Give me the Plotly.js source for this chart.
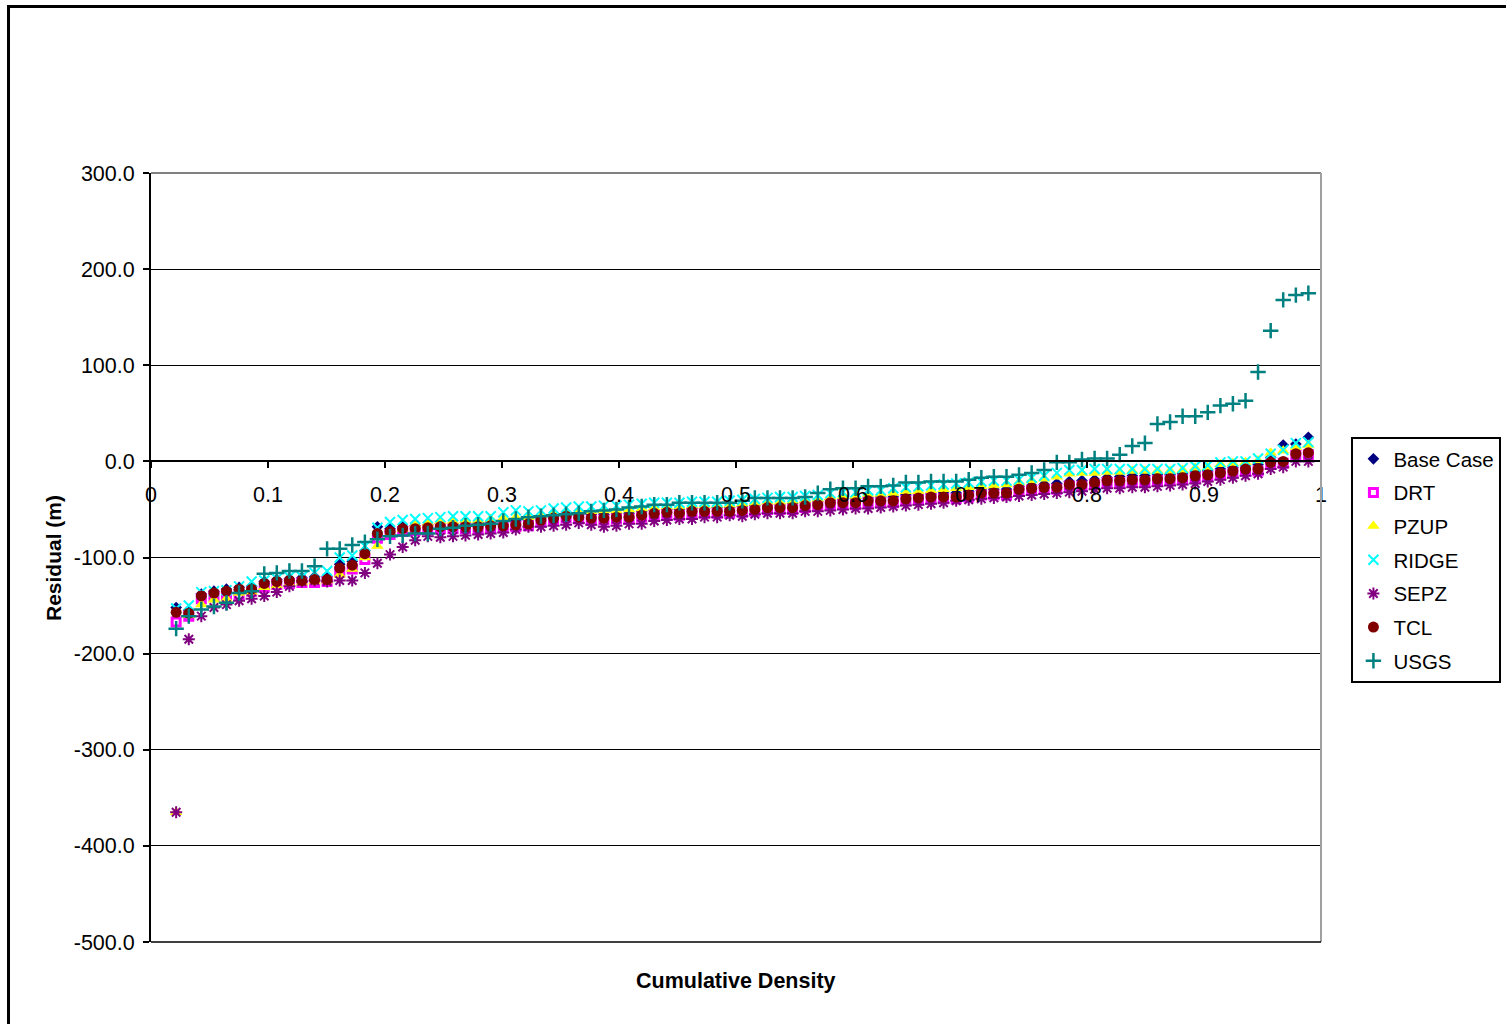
<!DOCTYPE html>
<html>
<head>
<meta charset="utf-8">
<script src="https://cdn.plot.ly/plotly-3.0.1.min.js"></script>
<style>
  html, body { margin: 0; padding: 0; background: #ffffff; }
  #wrap { position: relative; width: 1506px; height: 1024px; overflow: hidden; }
  #chart { position: absolute; left: 0; top: 0; width: 1506px; height: 1024px; }
  #frame { position: absolute; left: 7px; top: 5px; width: 1600px; height: 1100px;
           border-left: 3px solid #000; border-top: 3px solid #000; pointer-events: none; }
</style>
</head>
<body>
<div id="wrap">
  <div id="chart"></div>
  <div id="frame"></div>
</div>
<script>
// Cumulative density (x) for every point
const cumDensity = [0.0215,0.0323,0.0430,0.0538,0.0645,0.0753,0.0860,0.0968,0.1075,0.1183,
  0.1290,0.1398,0.1505,0.1613,0.1720,0.1828,0.1935,0.2043,0.2151,0.2258,
  0.2366,0.2473,0.2581,0.2688,0.2796,0.2903,0.3011,0.3118,0.3226,0.3333,
  0.3441,0.3548,0.3656,0.3763,0.3871,0.3978,0.4086,0.4194,0.4301,0.4409,
  0.4516,0.4624,0.4731,0.4839,0.4946,0.5054,0.5161,0.5269,0.5376,0.5484,
  0.5591,0.5699,0.5806,0.5914,0.6022,0.6129,0.6237,0.6344,0.6452,0.6559,
  0.6667,0.6774,0.6882,0.6989,0.7097,0.7204,0.7312,0.7419,0.7527,0.7634,
  0.7742,0.7849,0.7957,0.8065,0.8172,0.8280,0.8387,0.8495,0.8602,0.8710,
  0.8817,0.8925,0.9032,0.9140,0.9247,0.9355,0.9462,0.9570,0.9677,0.9785,0.9892];

// Residuals (m) per model
const baseCase = [-152,-155,-138,-135,-133,-131,-130,-125,-123,-122,
  -121,-120,-120,-107,-104,-93,-68,-70,-68,-67,
  -66,-65,-65,-64,-64,-63,-62,-62,-61,-58,
  -56,-55,-55,-55,-55,-54,-54,-52,-51,-50,
  -50,-49,-49,-48,-48,-47,-46,-45,-45,-44,
  -43,-42,-40,-40,-39,-38,-37,-37,-35,-35,
  -34,-33,-33,-31,-30,-29,-29,-26,-25,-24,
  -23,-21,-20,-19,-17,-16,-15,-15,-14,-14,
  -13,-11,-10,-8,-6,-4,-3,4,17,18,25];

const drt = [-167,-161,-143,-140,-139,-139,-135,-131,-128,-127,
  -126,-126,-125,-115,-112,-102,-80,-76,-73,-72,
  -71,-70,-70,-70,-70,-69,-69,-68,-67,-63,
  -61,-59,-60,-61,-61,-60,-60,-58,-56,-55,
  -56,-54,-54,-54,-54,-53,-52,-50,-50,-50,
  -48,-47,-45,-45,-45,-43,-43,-43,-41,-40,
  -39,-39,-39,-37,-35,-35,-35,-31,-30,-29,
  -29,-26,-26,-24,-22,-22,-21,-21,-20,-20,
  -19,-17,-16,-14,-12,-10,-10,-3,-2,6,7];

const pzup = [-365,-160,-149,-144,-143,-137,-136,-131,-129,-127,
  -126,-125,-124,-118,-112,-100,-88,-75,-70,-66,
  -64,-62,-62,-61,-61,-60,-59,-58,-58,-56,
  -54,-53,-52,-52,-51,-51,-50,-49,-48,-47,
  -47,-46,-46,-45,-45,-44,-43,-42,-42,-41,
  -40,-39,-37,-36,-36,-34,-34,-33,-31,-31,
  -30,-29,-28,-27,-26,-25,-24,-22,-20,-18,
  -16,-13,-12,-12,-11,-11,-10,-10,-10,-10,
  -9,-7,-6,-3,-2,-1,1,9,11,15,17];

const ridge = [-153,-150,-136,-135,-134,-130,-125,-124,-122,-120,
  -120,-116,-114,-100,-98,-88,-69,-63,-61,-60,
  -59,-58,-57,-57,-57,-57,-53,-51,-52,-51,
  -49,-48,-47,-47,-46,-46,-45,-44,-43,-43,
  -43,-42,-42,-42,-41,-40,-39,-38,-37,-37,
  -36,-35,-33,-32,-32,-30,-30,-28,-27,-26,
  -25,-24,-23,-22,-21,-20,-20,-19,-17,-15,
  -12,-9,-9,-8,-8,-8,-8,-8,-8,-8,
  -7,-5,-4,-1,0,0,3,8,12,19,20];

const sepz = [-365,-185,-161,-152,-149,-145,-143,-140,-136,-130,
  -125,-124,-125,-124,-124,-116,-106,-97,-89,-82,
  -78,-79,-78,-77,-76,-75,-74,-71,-68,-68,
  -67,-66,-64,-66,-68,-67,-65,-65,-62,-61,
  -60,-60,-58,-58,-56,-57,-55,-54,-54,-54,
  -52,-52,-51,-50,-49,-49,-48,-47,-46,-45,
  -44,-43,-41,-40,-39,-38,-37,-36,-35,-34,
  -33,-32,-31,-29,-28,-28,-27,-27,-26,-25,
  -24,-23,-21,-19,-17,-15,-13,-8,-6,0,0];

const tcl = [-157,-158,-140,-137,-135,-133,-133,-127,-125,-124,
  -124,-123,-123,-111,-108,-96,-75,-73,-70,-70,
  -69,-68,-68,-68,-68,-67,-67,-66,-65,-61,
  -59,-57,-58,-59,-59,-58,-58,-56,-54,-53,
  -54,-52,-52,-52,-52,-51,-50,-48,-48,-48,
  -46,-45,-43,-43,-43,-41,-41,-41,-39,-38,
  -37,-37,-37,-35,-33,-33,-33,-29,-28,-27,
  -27,-24,-24,-22,-20,-20,-19,-19,-18,-18,
  -17,-15,-14,-12,-10,-8,-8,-1,0,8,9];

const usgs = [-174,-161,-154,-151,-147,-137,-135,-117,-116,-114,
  -114,-109,-91,-91,-87,-84,-81,-78,-77,-75,
  -75,-70,-69,-67,-66,-65,-62,-60,-58,-57,
  -56,-55,-54,-52,-51,-50,-48,-47,-45,-45,
  -43,-43,-43,-43,-43,-41,-38,-38,-38,-38,
  -37,-33,-29,-28,-28,-26,-26,-25,-22,-22,
  -21,-21,-21,-19,-17,-16,-16,-14,-12,-9,
  -1,-1,2,3,3,7,16,19,39,41,
  47,47,51,58,60,63,93,136,168,173,175];

const seriesNames = ["Base Case","DRT","PZUP","RIDGE","SEPZ","TCL","USGS"];

const yTickVals = [-500,-400,-300,-200,-100,0,100,200,300];
const yTickText = ["-500.0","-400.0","-300.0","-200.0","-100.0","0.0","100.0","200.0","300.0"];
const xTickVals = [0,0.1,0.2,0.3,0.4,0.5,0.6,0.7,0.8,0.9,1];
const xTickText = ["0","0.1","0.2","0.3","0.4","0.5","0.6","0.7","0.8","0.9","1"];

const FONT = "Liberation Sans, Arial, sans-serif";
const FS = 21.5;

const styles = [
  {symbol: "diamond", size: 9, color: "#000080"},
  {symbol: "square-open", size: 8, color: "#FF00FF", line: {color: "#FF00FF", width: 3}},
  {symbol: "triangle-up", size: 11, color: "#FFFF00"},
  {symbol: "x-thin-open", size: 10, color: "#00FFFF", line: {color: "#00FFFF", width: 2}},
  {symbol: "asterisk-open", size: 10, color: "#800080", line: {color: "#800080", width: 2}},
  {symbol: "circle", size: 11, color: "#800000"},
  {symbol: "cross-thin-open", size: 11, color: "#008080", line: {color: "#008080", width: 2.5}}
];
const ySeries = [baseCase, drt, pzup, ridge, sepz, tcl, usgs];

const traces = ySeries.map((ys, i) => ({
  type: "scatter",
  mode: "markers",
  name: seriesNames[i],
  x: cumDensity,
  y: ys,
  legendgroup: "g" + i,
  marker: Object.assign({}, styles[i], styles[i].line ? {} : {line: {width: 0}}),
  cliponaxis: false
}));

const layout = {
  width: 1506,
  height: 1024,
  margin: {l: 151, r: 185, t: 173, b: 82, pad: 0, autoexpand: false},
  paper_bgcolor: "rgba(0,0,0,0)",
  plot_bgcolor: "#ffffff",
  font: {family: FONT, size: FS, color: "#000"},
  showlegend: true,
  legend: {
    x: 1.026, xanchor: "left",
    y: 0.6567, yanchor: "top",
    bgcolor: "#ffffff",
    bordercolor: "#000",
    borderwidth: 2,
    font: {family: FONT, size: 20.5, color: "#000"},
    tracegroupgap: 4,
    itemclick: false
  },
  xaxis: {
    range: [0, 1],
    tickvals: xTickVals,
    ticktext: xTickText,
    anchor: "free",
    position: 0.625,
    showline: true,
    linecolor: "#000",
    linewidth: 2,
    ticks: "outside",
    ticklen: 6,
    tickwidth: 2,
    tickcolor: "#000",
    ticklabelstandoff: 8,
    showgrid: false,
    zeroline: false,
    tickfont: {family: FONT, size: FS, color: "#000"}
  },
  yaxis: {
    range: [-500, 300],
    tickvals: yTickVals,
    ticktext: yTickText,
    showline: true,
    linecolor: "#000",
    linewidth: 2,
    ticks: "outside",
    ticklen: 6,
    tickwidth: 2,
    tickcolor: "#000",
    ticklabelstandoff: 4,
    showgrid: true,
    gridcolor: "#000",
    gridwidth: 1,
    zeroline: false,
    tickfont: {family: FONT, size: FS, color: "#000"}
  },
  shapes: [
    {type: "line", xref: "paper", yref: "paper", x0: 0, x1: 1, y0: 1, y1: 1,
     line: {color: "#808080", width: 2}, layer: "above"},
    {type: "line", xref: "paper", yref: "paper", x0: 1, x1: 1, y0: 0, y1: 1,
     line: {color: "#a0a0a0", width: 2}, layer: "above"},
    {type: "line", xref: "paper", yref: "paper", x0: 0, x1: 1, y0: 0, y1: 0,
     line: {color: "#000", width: 1.5}, layer: "above"}
  ],
  annotations: [
    {text: "<b>Residual (m)</b>", xref: "paper", yref: "paper", x: -0.0838, y: 0.4993,
     xanchor: "center", yanchor: "middle", textangle: -90, showarrow: false,
     font: {family: FONT, size: 21, color: "#000"}},
    {text: "<b>Cumulative Density</b>", xref: "paper", yref: "paper", x: 0.5, y: -0.0507,
     xanchor: "center", yanchor: "middle", showarrow: false,
     font: {family: FONT, size: 21.5, color: "#000"}}
  ]
};

Plotly.newPlot("chart", traces, layout, {displayModeBar: false, staticPlot: true});
</script>
</body>
</html>
